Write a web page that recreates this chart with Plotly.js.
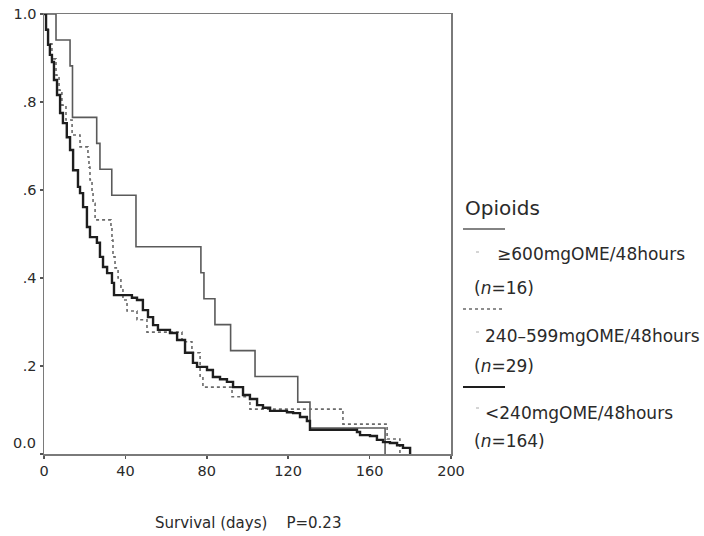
<!DOCTYPE html>
<html>
<head>
<meta charset="utf-8">
<script src="https://cdn.plot.ly/plotly-3.0.1.min.js"></script>
<style>
  html, body { margin: 0; padding: 0; background: #fff; }
  #chart { width: 704px; height: 536px; }
</style>
</head>
<body>
<div id="chart"></div>
<script>
// ---- Data (days, survival proportion) ----
// >=600 mgOME/48hours (n=16)
const highDays = [0, 5.9, 12.8, 14.0, 25.9, 27.5, 33.3, 45.2, 77.1, 78.6, 84.0, 91.7, 103.7, 124.7, 130.7, 167.6];
const highSurv = [1.0, 0.941, 0.882, 0.765, 0.706, 0.647, 0.588, 0.471, 0.412, 0.353, 0.294, 0.235, 0.176, 0.118, 0.059, 0.0];

// 240-599 mgOME/48hours (n=29)
const midDays = [0, 1.0, 2.0, 3.9, 5.9, 7.4, 8.8, 10.8, 13.8, 17.7, 21.6, 22.1, 22.6, 23.6, 24.1, 25.1, 32.9, 33.4, 33.9, 34.9, 36.4, 37.8, 38.8, 40.8, 45.7, 50.6, 67.8, 72.7, 76.7, 78.1, 92.4, 101.2, 146.9, 168.6, 174.9];
const midSurv = [1.0, 0.966, 0.932, 0.898, 0.861, 0.827, 0.793, 0.759, 0.725, 0.698, 0.675, 0.652, 0.623, 0.595, 0.570, 0.532, 0.520, 0.486, 0.448, 0.423, 0.400, 0.377, 0.350, 0.325, 0.305, 0.277, 0.255, 0.230, 0.175, 0.152, 0.130, 0.102, 0.068, 0.034, 0.0];

// <240 mgOME/48hours (n=164)
const lowDays = [0, 1.0, 2.0, 2.9, 3.9, 4.9, 6.4, 7.9, 9.3, 11.2, 12.8, 14.3, 16.7, 17.7, 19.2, 21.1, 22.6, 26.0, 27.5, 29.0, 31.0, 33.4, 34.4, 43.2, 45.7, 48.6, 51.1, 53.6, 56.0, 61.9, 65.4, 69.3, 73.2, 75.2, 80.1, 83.0, 86.5, 89.9, 92.9, 97.8, 101.2, 104.7, 107.6, 111.1, 119.4, 122.4, 125.8, 129.2, 130.7, 153.8, 155.3, 160.2, 163.6, 166.6, 170.0, 173.5, 176.4, 179.9];
const lowSurv = [1.0, 0.964, 0.93, 0.907, 0.891, 0.85, 0.816, 0.775, 0.752, 0.720, 0.691, 0.645, 0.607, 0.593, 0.561, 0.516, 0.493, 0.480, 0.448, 0.425, 0.411, 0.389, 0.361, 0.355, 0.35, 0.327, 0.311, 0.293, 0.282, 0.275, 0.259, 0.230, 0.207, 0.198, 0.191, 0.175, 0.170, 0.164, 0.152, 0.134, 0.125, 0.111, 0.105, 0.098, 0.095, 0.093, 0.084, 0.075, 0.055, 0.050, 0.043, 0.041, 0.032, 0.027, 0.025, 0.020, 0.014, 0.0];

// ---- Text ----
const yTickVals = [0, 0.2, 0.4, 0.6, 0.8, 1.0];
const yTickText = ['0.0', '.2', '.4', '.6', '.8', '1.0'];
const xTickVals = [0, 40, 80, 120, 160, 200];
const legendTitle = 'Opioids';
const legendLabels = ['\u2265600mgOME/48hours', '240\u2013599mgOME/48hours', '<240mgOME/48hours'];
const legendN = ['(<i>n</i>=16)', '(<i>n</i>=29)', '(<i>n</i>=164)'];
const xTitle = 'Survival (days)\u00a0\u00a0\u00a0\u00a0P=0.23';

// ---- Layout geometry (pixels -> paper) ----
const L = 44, R = 451, T = 14, B = 454;
const W = 704, H = 536;
const px = x => (x - L) / (R - L);
const py = y => (B - y) / (B - T);

const FONT = 'DejaVu Sans, Arial, sans-serif';
const TXT = '#2a2a2a';

const traces = [
  { x: highDays, y: highSurv, mode: 'lines', line: { shape: 'hv', color: '#5a5a5a', width: 1.6 }, hoverinfo: 'skip' },
  { x: midDays, y: midSurv, mode: 'lines', line: { shape: 'hv', color: '#6a6a6a', width: 1.6, dash: 'dot' }, hoverinfo: 'skip' },
  { x: lowDays, y: lowSurv, mode: 'lines', line: { shape: 'hv', color: '#1e1e1e', width: 2.4 }, hoverinfo: 'skip' }
];

const shapes = [
  { type: 'line', xref: 'paper', yref: 'paper', x0: px(463), x1: px(505), y0: py(229), y1: py(229), line: { color: '#5a5a5a', width: 1.6 } },
  { type: 'line', xref: 'paper', yref: 'paper', x0: px(463), x1: px(503), y0: py(309), y1: py(309), line: { color: '#6a6a6a', width: 1.6, dash: 'dot' } },
  { type: 'line', xref: 'paper', yref: 'paper', x0: px(463), x1: px(505), y0: py(387), y1: py(387), line: { color: '#1e1e1e', width: 2.2 } },
  { type: 'line', xref: 'paper', yref: 'paper', x0: px(476), x1: px(479), y0: py(252), y1: py(252), line: { color: '#aaa', width: 1 } },
  { type: 'line', xref: 'paper', yref: 'paper', x0: px(476), x1: px(479), y0: py(332), y1: py(332), line: { color: '#aaa', width: 1 } },
  { type: 'line', xref: 'paper', yref: 'paper', x0: px(476), x1: px(479), y0: py(408), y1: py(408), line: { color: '#aaa', width: 1 } }
];

function txt(text, x, y, size, anchor) {
  return { text: text, xref: 'paper', yref: 'paper', x: px(x), y: py(y), xanchor: anchor || 'left', yanchor: 'middle',
           showarrow: false, font: { family: FONT, size: size, color: TXT } };
}

const annotations = [
  txt(legendTitle, 463, 208, 20),
  txt(legendLabels[0], 495, 254, 17),
  txt(legendN[0], 472, 288, 17),
  txt(legendLabels[1], 483, 336, 17),
  txt(legendN[1], 472, 366, 17),
  txt(legendLabels[2], 483, 413, 17),
  txt(legendN[2], 472, 441, 17),
  // the "0.0" label sits a little above its tick in the reference
  txt(yTickText[0], 38, 443, 14.5, 'right'),
  { text: xTitle, xref: 'paper', yref: 'paper', x: 0.5, y: py(523), xanchor: 'center', yanchor: 'middle',
    showarrow: false, font: { family: FONT, size: 15, color: TXT } }
];

const layout = {
  width: W, height: H,
  margin: { l: L, r: W - R, t: T, b: H - B, pad: 0 },
  paper_bgcolor: '#fff', plot_bgcolor: '#fff',
  showlegend: false,
  font: { family: FONT, color: TXT, size: 14 },
  xaxis: {
    range: [0, 200], tickvals: xTickVals, ticktext: xTickVals.map(String),
    showgrid: false, zeroline: false, showline: true, mirror: true,
    linecolor: '#7a7a7a', linewidth: 1.5, ticks: 'outside', ticklen: 3, tickcolor: '#555', tickwidth: 1.5,
    tickfont: { family: FONT, size: 14.5, color: TXT }, fixedrange: true
  },
  yaxis: {
    range: [0, 1], tickvals: yTickVals, ticktext: ['', ...yTickText.slice(1)],
    showgrid: false, zeroline: false, showline: true, mirror: true,
    linecolor: '#7a7a7a', linewidth: 1.5, ticks: 'outside', ticklen: 3, tickcolor: '#555', tickwidth: 1.5,
    tickfont: { family: FONT, size: 14.5, color: TXT }, fixedrange: true
  },
  shapes: shapes,
  annotations: annotations
};

Plotly.newPlot('chart', traces, layout, { displayModeBar: false, staticPlot: true });
</script>
</body>
</html>
